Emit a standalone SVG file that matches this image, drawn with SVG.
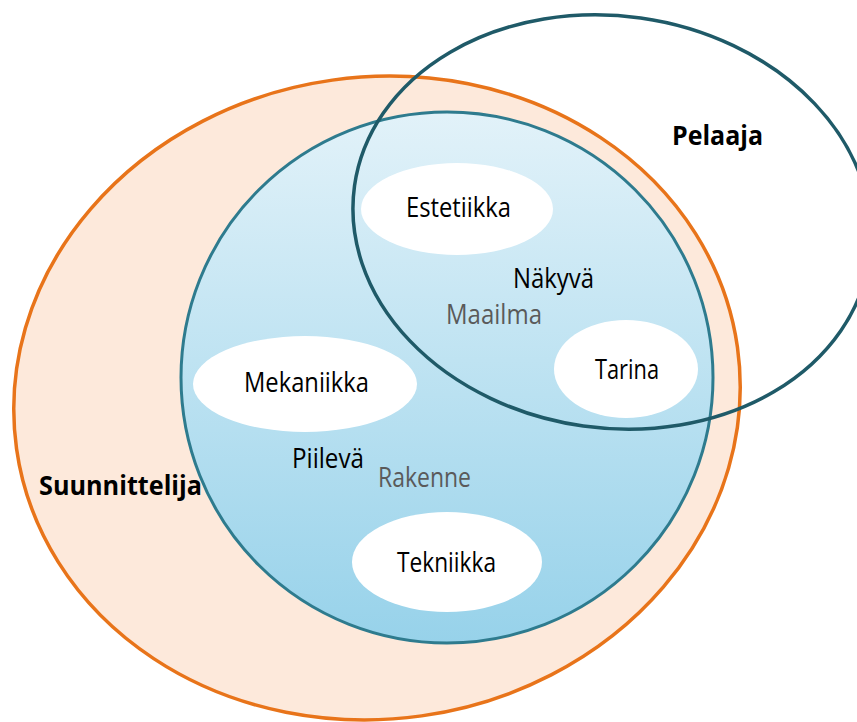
<svg xmlns="http://www.w3.org/2000/svg" width="857" height="722" viewBox="0 0 857 722">
<defs>
<linearGradient id="blueGrad" x1="0" y1="0" x2="0" y2="1">
<stop offset="0" stop-color="#e2f2f9"/>
<stop offset="1" stop-color="#97d2ea"/>
</linearGradient>
<style>
text{font-family:"Open Sans","Noto Sans","Liberation Sans",sans-serif;font-size:27.5px;fill:#000}
.bold{font-weight:bold;font-size:26px}
.gray{fill:#5a5a5a}
.white{fill:#ffffff;stroke:none}
</style>
</defs>
<rect width="857" height="722" fill="#ffffff"/>
<g id="suunnittelija">
<ellipse cx="377" cy="398" rx="364" ry="321" transform="rotate(-8 377 398)" fill="#fde9db" stroke="#e8741a" stroke-width="3.5"/>
<text class="bold" x="39" y="495" textLength="163" lengthAdjust="spacingAndGlyphs">Suunnittelija</text>
</g>
<g id="maailma">
<ellipse cx="447" cy="377.5" rx="266" ry="265.5" fill="url(#blueGrad)" stroke="#2e7b8e" stroke-width="3"/>
</g>
<g id="estetiikka">
<ellipse class="white" cx="457" cy="209" rx="96" ry="46"/>
<text x="406" y="217" textLength="105" lengthAdjust="spacingAndGlyphs">Estetiikka</text>
</g>
<g id="mekaniikka">
<ellipse class="white" cx="305" cy="384" rx="112" ry="48"/>
<text x="244" y="392" textLength="125" lengthAdjust="spacingAndGlyphs">Mekaniikka</text>
</g>
<g id="tarina">
<ellipse class="white" cx="626" cy="369" rx="72" ry="49"/>
<text x="595" y="379" textLength="64" lengthAdjust="spacingAndGlyphs">Tarina</text>
</g>
<g id="tekniikka">
<ellipse class="white" cx="447" cy="562" rx="95" ry="50"/>
<text x="397" y="572" textLength="99" lengthAdjust="spacingAndGlyphs">Tekniikka</text>
</g>
<g id="labels">
<text x="513" y="288" textLength="81" lengthAdjust="spacingAndGlyphs">Näkyvä</text>
<text class="gray" x="446" y="324" textLength="96" lengthAdjust="spacingAndGlyphs">Maailma</text>
<text x="292" y="468" textLength="72" lengthAdjust="spacingAndGlyphs">Piilevä</text>
<text class="gray" x="378" y="487" textLength="93" lengthAdjust="spacingAndGlyphs">Rakenne</text>
</g>
<g id="pelaaja">
<ellipse cx="612" cy="222" rx="260" ry="206" transform="rotate(8 612 222)" fill="none" stroke="#1f5a68" stroke-width="3.5"/>
<text class="bold" x="672" y="145" textLength="91" lengthAdjust="spacingAndGlyphs">Pelaaja</text>
</g>
<g id="connectors"/>
</svg>
